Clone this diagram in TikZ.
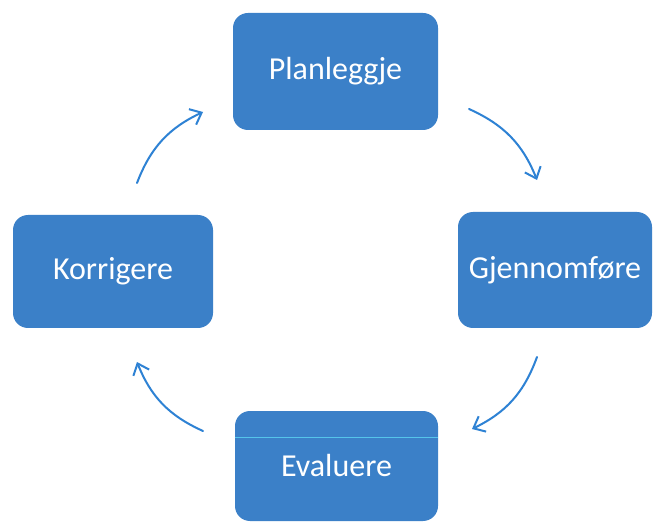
\documentclass[tikz,border=0pt]{standalone}
\usepackage{fontspec}
\setmainfont{Carlito}
\usetikzlibrary{arrows.meta}
\definecolor{boxblue}{HTML}{3B80C8}
\definecolor{arrowblue}{HTML}{2E82D4}
\definecolor{scanline}{HTML}{55C4EA}
\tikzset{
  stepbox/.style={rectangle, rounded corners=15pt, fill=boxblue, draw=none,
    inner sep=0pt, text=white, font=\fontsize{32}{38}\selectfont},
  cyclearrow/.style={draw=arrowblue, line width=2pt, line cap=round,
    -{Straight Barb[length=10pt,width=17pt,line width=2pt]}, bend left=22}
}
\begin{document}
\begin{tikzpicture}[x=1pt,y=1pt]
\useasboundingbox (0,0) rectangle (654,523);
\fill[white] (0,0) rectangle (654,523);
\node[stepbox, minimum width=205pt, minimum height=117pt] (P) at (335.5,451.5) {Planleggje};
\node[stepbox, minimum width=194pt, minimum height=116pt] (G) at (555,253) {Gjennomføre};
\node[stepbox, minimum width=200pt, minimum height=113pt] (K) at (113,251.5) {Korrigere};
\node[stepbox, minimum width=203pt, minimum height=110pt] (E) at (336.5,57) {Evaluere};
\draw[scanline, line width=0.8pt] ([yshift=-27pt]E.north west) -- ([yshift=-27pt]E.north east);
\coordinate (a1s) at (137,340);
\coordinate (a1e) at (203,411);
\coordinate (a2s) at (469,414);
\coordinate (a2e) at (537,343);
\coordinate (a3s) at (537,166);
\coordinate (a3e) at (472,94);
\coordinate (a4s) at (203,92);
\coordinate (a4e) at (137,161);
\draw[cyclearrow] (a1s) to (a1e);
\draw[cyclearrow] (a2s) to (a2e);
\draw[cyclearrow] (a3s) to (a3e);
\draw[cyclearrow] (a4s) to (a4e);
\end{tikzpicture}
\end{document}
